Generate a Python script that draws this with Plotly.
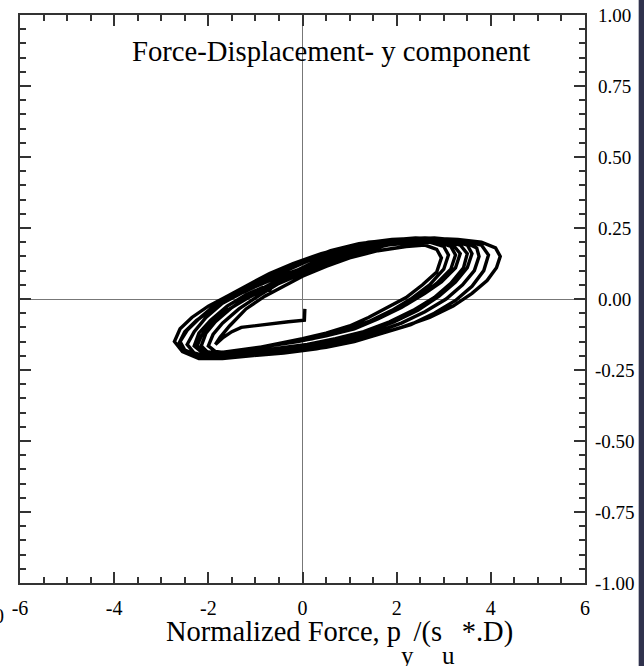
import plotly.graph_objects as go

# ---------------- data ----------------
start_x = [0.05, 0.05, 0.04, -0.3, -0.8, -1.3, -1.5, -1.68, -1.85]
start_y = [-0.035, -0.06, -0.075, -0.08, -0.09, -0.10, -0.115, -0.135, -0.16]

cycA_x = [-1.75, -1.55, -1.2, -0.8, -0.4, 0.0, 0.5, 1.0, 1.6, 2.2, 2.6, 2.85, 2.95,
          2.85, 2.55, 2.2, 1.8, 1.4, 1.0, 0.5, 0.0, -0.6, -1.2, -1.6, -1.85, -2.0]
cycA_y = [-0.135, -0.095, -0.035, 0.01, 0.045, 0.08, 0.115, 0.145, 0.17, 0.185, 0.19, 0.175, 0.145,
          0.095, 0.05, 0.005, -0.03, -0.065, -0.095, -0.12, -0.14, -0.16, -0.18, -0.19, -0.185, -0.165]

cycB_x = [-1.9, -1.7, -1.35, -0.9, -0.5, 0.0, 0.6, 1.2, 1.8, 2.4, 2.9, 3.15, 3.25,
          3.15, 2.85, 2.5, 2.1, 1.6, 1.1, 0.5, -0.1, -0.7, -1.3, -1.75, -2.0, -2.15]
cycB_y = [-0.125, -0.085, -0.035, 0.015, 0.055, 0.09, 0.13, 0.165, 0.19, 0.20, 0.20, 0.185, 0.155,
          0.105, 0.055, 0.01, -0.03, -0.07, -0.105, -0.13, -0.15, -0.165, -0.185, -0.20, -0.19, -0.165]

cycC_x = [-2.05, -1.85, -1.5, -1.05, -0.6, -0.1, 0.5, 1.1, 1.7, 2.4, 3.0, 3.35, 3.5,
          3.42, 3.15, 2.8, 2.35, 1.85, 1.3, 0.7, 0.1, -0.6, -1.2, -1.7, -2.05, -2.3]
cycC_y = [-0.12, -0.08, -0.03, 0.02, 0.06, 0.095, 0.135, 0.17, 0.19, 0.205, 0.205, 0.19, 0.16,
          0.11, 0.055, 0.005, -0.04, -0.08, -0.115, -0.14, -0.16, -0.175, -0.19, -0.20, -0.20, -0.165]

cycD_x = [-2.2, -1.95, -1.6, -1.2, -0.85, -0.7, -0.6, -0.25, 0.3, 0.9, 1.5, 2.2, 2.9, 3.45, 3.7, 3.75,
          3.65, 3.4, 3.05, 2.6, 2.1, 1.5, 0.9, 0.3, -0.4, -1.0, -1.6, -2.0, -2.3, -2.45]
cycD_y = [-0.12, -0.075, -0.025, 0.015, 0.04, 0.03, 0.055, 0.09, 0.135, 0.17, 0.195, 0.21, 0.21, 0.20, 0.18, 0.15,
          0.10, 0.05, 0.0, -0.045, -0.085, -0.12, -0.145, -0.165, -0.18, -0.19, -0.20, -0.205, -0.19, -0.16]

cycE_x = [-2.3, -2.05, -1.7, -1.3, -0.85, -0.35, 0.2, 0.8, 1.4, 2.1, 2.8, 3.4, 3.8, 3.95,
          3.85, 3.6, 3.25, 2.8, 2.3, 1.7, 1.1, 0.5, -0.2, -0.9, -1.5, -2.0, -2.3, -2.5, -2.6]
cycE_y = [-0.115, -0.065, -0.015, 0.02, 0.06, 0.10, 0.14, 0.175, 0.20, 0.21, 0.215, 0.205, 0.19, 0.155,
          0.10, 0.045, -0.005, -0.05, -0.09, -0.12, -0.15, -0.17, -0.185, -0.195, -0.205, -0.21, -0.20, -0.18, -0.15]

cycF_x = [-2.45, -2.2, -1.85, -1.45, -1.0, -0.5, 0.05, 0.6, 1.2, 1.9, 2.6, 3.3, 3.8, 4.1, 4.2,
          4.12, 3.92, 3.6, 3.2, 2.7, 2.1, 1.5, 0.9, 0.3, -0.4, -1.1, -1.7, -2.2, -2.55, -2.72]
cycF_y = [-0.11, -0.07, -0.02, 0.015, 0.055, 0.095, 0.135, 0.17, 0.195, 0.21, 0.215, 0.21, 0.20, 0.18, 0.15,
          0.11, 0.065, 0.02, -0.025, -0.065, -0.10, -0.13, -0.155, -0.175, -0.19, -0.20, -0.21, -0.21, -0.185, -0.15]

cycG_x = [-2.6, -2.35, -2.0, -1.6, -1.15, -0.7, -0.2, 0.4, 1.0, 1.7, 2.4, 3.1, 3.5, 3.6,
          3.5, 3.25, 2.9, 2.45, 1.95, 1.4, 0.8, 0.2, -0.5, -1.2, -1.8, -2.2, -2.5, -2.62]
cycG_y = [-0.105, -0.065, -0.025, 0.01, 0.05, 0.09, 0.125, 0.16, 0.185, 0.205, 0.215, 0.21, 0.19, 0.16,
          0.11, 0.06, 0.01, -0.04, -0.08, -0.115, -0.145, -0.17, -0.185, -0.195, -0.205, -0.20, -0.18, -0.155]

cycH_x = [-2.5, -2.25, -1.9, -1.5, -1.05, -0.55, 0.0, 0.6, 1.3, 2.0, 2.7, 3.0, 3.1,
          3.0, 2.7, 2.3, 1.9, 1.4, 0.8, 0.2, -0.5, -1.2, -1.8, -2.1, -2.25]
cycH_y = [-0.115, -0.075, -0.035, 0.005, 0.04, 0.075, 0.11, 0.145, 0.175, 0.195, 0.20, 0.185, 0.155,
          0.105, 0.05, 0.0, -0.04, -0.08, -0.115, -0.14, -0.16, -0.18, -0.195, -0.195, -0.17]

cycI_x = [-2.15, -1.95, -1.6, -1.2, -0.75, -0.3, 0.2, 0.8, 1.4, 2.1, 2.8, 3.2, 3.35,
          3.25, 2.95, 2.6, 2.2, 1.7, 1.2, 0.6, 0.0, -0.7, -1.3, -1.8, -2.1, -2.2]
cycI_y = [-0.13, -0.09, -0.04, 0.0, 0.04, 0.075, 0.115, 0.15, 0.18, 0.20, 0.205, 0.19, 0.16,
          0.11, 0.06, 0.02, -0.02, -0.06, -0.095, -0.125, -0.145, -0.165, -0.18, -0.19, -0.185, -0.165]

x_tickvals = [-6, -4, -2, 0, 2, 4, 6]
x_ticklabels = ["-6", "-4", "-2", "0", "2", "4", "6"]
y_tickvals = [-1.0, -0.75, -0.5, -0.25, 0.0, 0.25, 0.5, 0.75, 1.0]
y_ticklabels = ["-1.00", "-0.75", "-0.50", "-0.25", "0.00", "0.25", "0.50", "0.75", "1.00"]

chart_title = "Force-Displacement- y component"
SUB = "<span style='font-size:25px;baseline-shift:-23px'>{}</span>"
x_title = ("Normalized Force, p" + SUB.format("y") + "/(s" + SUB.format("u") + " *.D)")

# ---------------- figure ----------------
xs = (start_x + cycA_x + cycB_x + cycC_x + cycD_x + cycE_x + cycF_x + cycG_x
      + cycH_x + cycI_x)
ys = (start_y + cycA_y + cycB_y + cycC_y + cycD_y + cycE_y + cycF_y + cycG_y
      + cycH_y + cycI_y)

FONT = "Liberation Serif, Times New Roman, serif"
AX = "#333333"
L, R, T, B = 18, 59, 15, 83
W, H = 644, 666
plot_w = W - L - R

fig = go.Figure()
fig.add_trace(go.Scatter(x=xs, y=ys, mode="lines",
                         line=dict(color="black", width=3.4),
                         showlegend=False, hoverinfo="skip"))

common = dict(showline=True, linecolor=AX, linewidth=1.5, mirror="ticks",
              ticks="inside", ticklen=11, tickwidth=1.5, tickcolor=AX,
              showgrid=False, zeroline=True, zerolinecolor="#777777", zerolinewidth=1,
              tickfont=dict(family=FONT, size=20, color="black"), ticklabelstandoff=6)

fig.update_xaxes(range=[-6, 6], tickmode="array", tickvals=x_tickvals, ticktext=x_ticklabels,
                 minor=dict(tickmode="linear", tick0=-6, dtick=0.5, ticks="inside",
                            ticklen=6, tickwidth=1.5, tickcolor=AX),
                 **common)
fig.update_yaxes(range=[-1, 1], side="right", tickmode="array", tickvals=y_tickvals,
                 showticklabels=False,
                 minor=dict(tickmode="linear", tick0=-1, dtick=0.05, ticks="inside",
                            ticklen=6, tickwidth=1.5, tickcolor=AX),
                 **common)

# y tick labels: centred beside the right axis (as in the reference)
annotations = [
    dict(text=lab, xref="paper", yref="y", x=(615 - L) / plot_w, y=val,
         showarrow=False, font=dict(family=FONT, size=19, color="black"),
         xanchor="center", yanchor="middle")
    for val, lab in zip(y_tickvals, y_ticklabels)
]
annotations += [
    dict(text=chart_title, xref="paper", yref="paper", x=0.55, y=0.936,
         showarrow=False, font=dict(family=FONT, size=28.7, color="black"),
         xanchor="center", yanchor="middle"),
    dict(text=x_title, xref="paper", yref="paper", x=(163 - L) / plot_w, y=-0.1054,
         showarrow=False, font=dict(family=FONT, size=28.5, color="black"),
         xanchor="left", yanchor="middle"),
    dict(text="0", xref="paper", yref="paper", x=-0.0247, y=-0.058,
         showarrow=False, font=dict(family=FONT, size=20, color="black"),
         xanchor="right", yanchor="middle"),
]

fig.update_layout(
    width=W, height=H,
    margin=dict(l=L, r=R, t=T, b=B),
    paper_bgcolor="white", plot_bgcolor="white",
    font=dict(family=FONT, color="black"),
    annotations=annotations,
    shapes=[
        dict(type="rect", xref="paper", yref="paper", x0=1.095, x1=1.12, y0=-0.2, y1=1.1,
             fillcolor="#30324d", line=dict(width=0), layer="above"),
    ],
)

fig.write_html("out.html")
